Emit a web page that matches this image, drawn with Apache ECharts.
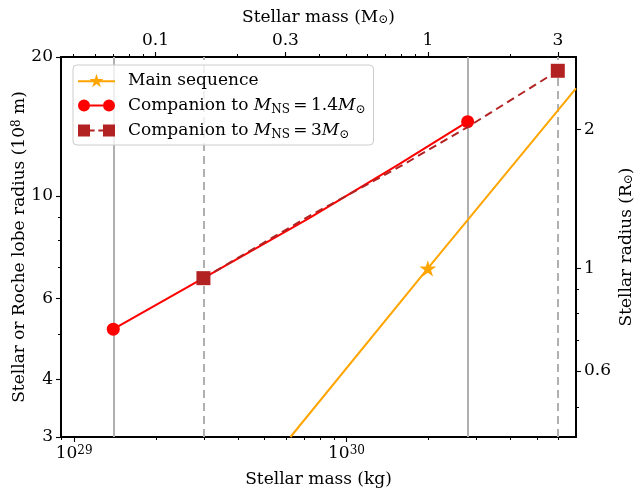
<!DOCTYPE html>
<html>
<head>
<meta charset="utf-8">
<script src="https://cdn.jsdelivr.net/npm/echarts@6/dist/echarts.min.js"></script>
<style>html,body{margin:0;background:#fff}#main{width:636px;height:490px}</style>
</head>
<body>
<div id="main"></div>
<script>
var MSUN = 1.989e30;   // kg
var RSUN = 6.957;      // in 10^8 m

// axis ranges
var massRange = [8.95e28, 6.96e30];   // kg
var radiusRange = [3, 20];            // 10^8 m

// tick values
var bottomTicks = [1e29, 1e30];
var bottomMinor = [9e28, 2e29, 3e29, 4e29, 5e29, 6e29, 7e29, 8e29, 9e29, 2e30, 3e30, 4e30, 5e30, 6e30];
var topTicks = [0.1, 0.3, 1, 3];
var topMinor = [0.05, 0.06, 0.07, 0.08, 0.09, 0.2, 0.4, 0.5, 0.6, 0.7, 0.8, 0.9, 2];
var leftTicks = [3, 4, 6, 10, 20];
var leftMinor = [5, 7, 8, 9];
var rightTicks = [0.6, 1, 2];
var rightMinor = [0.5, 0.7, 0.8, 0.9];

// main sequence (mass in Msun, radius in 10^8 m)
var msMass = [0.313, 1, 3.5];
var msRadius = [3.0, 6.96, 17.1];

// companion to 1.4 Msun NS
var c14Mass = [0.07, 0.15, 0.367, 0.785, 1.4];
var c14Radius = [5.14, 6.63, 8.95, 11.72, 14.48];

// companion to 3 Msun NS
var c3Mass = [0.15, 0.367, 0.785, 1.4, 3];
var c3Radius = [6.63, 9.04, 11.55, 14.10, 18.67];

// vertical guide lines (Msun)
var solidLines = [0.07, 1.4];
var dashedLines = [0.15, 3];

var FONT = 'DejaVu Serif';
var FS = 17;

// marker / legend shapes
var starPath = 'path://M20,0 L21.8,5.52 L27.61,5.53 L22.91,8.95 L24.7,14.47 L20,11.06 L15.3,14.47 L17.09,8.95 L12.39,5.53 L18.2,5.52 Z';
var starLegend = 'path://M0,7 L40,7 L40,9 L0,9 Z M20,0 L21.8,5.52 L27.61,5.53 L22.91,8.95 L24.7,14.47 L20,11.06 L15.3,14.47 L17.09,8.95 L12.39,5.53 L18.2,5.52 Z';
var circLegend = 'path://M0,8 A6.5,6.5 0 1,1 13,8 A6.5,6.5 0 1,1 0,8 Z M13,7 L27,7 L27,9 L13,9 Z M27,8 A6.5,6.5 0 1,1 40,8 A6.5,6.5 0 1,1 27,8 Z';
var sqLegend = 'path://M0,1.5 L13,1.5 L13,14.5 L0,14.5 Z M13,7 L18,7 L18,9 L13,9 Z M22,7 L27,7 L27,9 L22,9 Z M27,1.5 L40,1.5 L40,14.5 L27,14.5 Z';

var richText = {
    sup: {fontFamily: FONT, fontSize: 12, lineHeight: 12, verticalAlign: 'top', color: '#000'},
    sub: {fontFamily: FONT, fontSize: 12, lineHeight: 12, verticalAlign: 'bottom', color: '#000'},
    i: {fontFamily: FONT, fontSize: FS, fontStyle: 'italic', color: '#000'},
    n: {fontFamily: FONT, fontSize: FS, color: '#000'}
};

function pairs(mass, rad, scale) {
    var out = [];
    for (var i = 0; i < mass.length; i++) {
        out.push([mass[i] * scale, rad[i]]);
    }
    return out;
}

// first and last point get the marker
function endMarkers(arr) {
    return arr.map(function (p, i) {
        if (i === 0 || i === arr.length - 1) return {value: p};
        return {value: p, symbol: 'none'};
    });
}

function majorAxis(pos, min, max, ticks, fmt, name, nameGap) {
    return {
        type: 'log', position: pos, min: min, max: max,
        axisLine: {show: true, onZero: false, lineStyle: {color: '#000', width: 2}},
        axisTick: {show: true, inside: false, length: 5, customValues: ticks, lineStyle: {color: '#000', width: 1.1}},
        axisLabel: {show: true, customValues: ticks, formatter: fmt, margin: 8,
            fontFamily: FONT, fontSize: FS, color: '#000', rich: richText},
        splitLine: {show: false},
        name: name, nameLocation: 'middle', nameGap: nameGap, nameMoveOverlap: false,
        nameTextStyle: {fontFamily: FONT, fontSize: FS, color: '#000', rich: richText}
    };
}

function minorAxis(pos, min, max, ticks) {
    return {
        type: 'log', position: pos, min: min, max: max,
        axisLine: {show: false, onZero: false},
        axisTick: {show: true, inside: false, length: 3, customValues: ticks, lineStyle: {color: '#000', width: 1}},
        axisLabel: {show: false},
        splitLine: {show: false}
    };
}

var plainFmt = function (v) { return String(+v.toPrecision(3)); };
var powFmt = function (v) { return '10{sup|' + Math.round(Math.log10(v)) + '}'; };

var msData = pairs(msMass, msRadius, MSUN).map(function (p, i) {
    return i === 1 ? {value: p} : {value: p, symbol: 'none'};
});

var guideLines = [];
solidLines.forEach(function (m) {
    guideLines.push({xAxis: m * MSUN, lineStyle: {type: 'solid'}});
});
dashedLines.forEach(function (m) {
    guideLines.push({xAxis: m * MSUN, lineStyle: {type: [8, 5]}});
});

var legendNames = {
    'Main sequence': 'Main sequence',
    'c14': 'Companion to {i|M}{sub|NS}{n|\u2009=\u20091.4}{i|M}{sub|⊙}',
    'c3': 'Companion to {i|M}{sub|NS}{n|\u2009=\u20093}{i|M}{sub|⊙}'
};

var myChart = echarts.init(document.getElementById('main'));
var option = {
    animation: false,
    backgroundColor: '#fff',
    grid: {left: 61, right: 60, top: 57, bottom: 53, containLabel: false, outerBoundsMode: 'none'},
    legend: {
        left: 73, top: 65, orient: 'vertical',
        selectedMode: false,
        itemWidth: 37, itemHeight: 16, itemGap: 4,
        padding: [5, 8, 4, 5],
        backgroundColor: 'rgba(255,255,255,0.8)',
        borderColor: '#cccccc', borderWidth: 1, borderRadius: 4,
        textStyle: {fontFamily: FONT, fontSize: FS, color: '#000', lineHeight: 21,
            padding: [0, 0, 0, 8], rich: richText},
        formatter: function (n) { return legendNames[n]; },
        data: [
            {name: 'Main sequence', icon: starLegend},
            {name: 'c14', icon: circLegend},
            {name: 'c3', icon: sqLegend}
        ]
    },
    xAxis: [
        majorAxis('bottom', massRange[0], massRange[1], bottomTicks, powFmt, 'Stellar mass (kg)', 34),
        minorAxis('bottom', massRange[0], massRange[1], bottomMinor),
        majorAxis('top', massRange[0] / MSUN, massRange[1] / MSUN, topTicks, plainFmt, 'Stellar mass (M{sub|⊙})', 31),
        minorAxis('top', massRange[0] / MSUN, massRange[1] / MSUN, topMinor)
    ],
    yAxis: [
        majorAxis('left', radiusRange[0], radiusRange[1], leftTicks, plainFmt, 'Stellar or Roche lobe radius (10{sup|8} m)', 33),
        minorAxis('left', radiusRange[0], radiusRange[1], leftMinor),
        majorAxis('right', radiusRange[0] / RSUN, radiusRange[1] / RSUN, rightTicks, plainFmt, 'Stellar radius (R{sub|⊙})', 42),
        minorAxis('right', radiusRange[0] / RSUN, radiusRange[1] / RSUN, rightMinor)
    ],
    series: [
        {
            name: 'Main sequence', type: 'line', xAxisIndex: 0, yAxisIndex: 0,
            data: msData, symbol: starPath, symbolSize: 17, symbolKeepAspect: true,
            showSymbol: true,
            lineStyle: {color: '#ffa500', width: 2},
            itemStyle: {color: '#ffa500', borderWidth: 0},
            markLine: {
                silent: true, symbol: 'none', label: {show: false}, z: 1,
                lineStyle: {color: '#b0b0b0', width: 2},
                data: guideLines
            },
            z: 2
        },
        {
            name: 'c14', type: 'line', xAxisIndex: 0, yAxisIndex: 0,
            data: endMarkers(pairs(c14Mass, c14Radius, MSUN)),
            symbol: 'circle', symbolSize: 13, showSymbol: true,
            lineStyle: {color: '#ff0000', width: 2},
            itemStyle: {color: '#ff0000', borderWidth: 0},
            z: 3
        },
        {
            name: 'c3', type: 'line', xAxisIndex: 0, yAxisIndex: 0,
            data: endMarkers(pairs(c3Mass, c3Radius, MSUN)),
            symbol: 'rect', symbolSize: 14, showSymbol: true,
            lineStyle: {color: '#b22222', width: 2, type: [8, 5]},
            itemStyle: {color: '#b22222', borderWidth: 0},
            z: 4
        }
    ]
};
myChart.setOption(option);
</script>
</body>
</html>
